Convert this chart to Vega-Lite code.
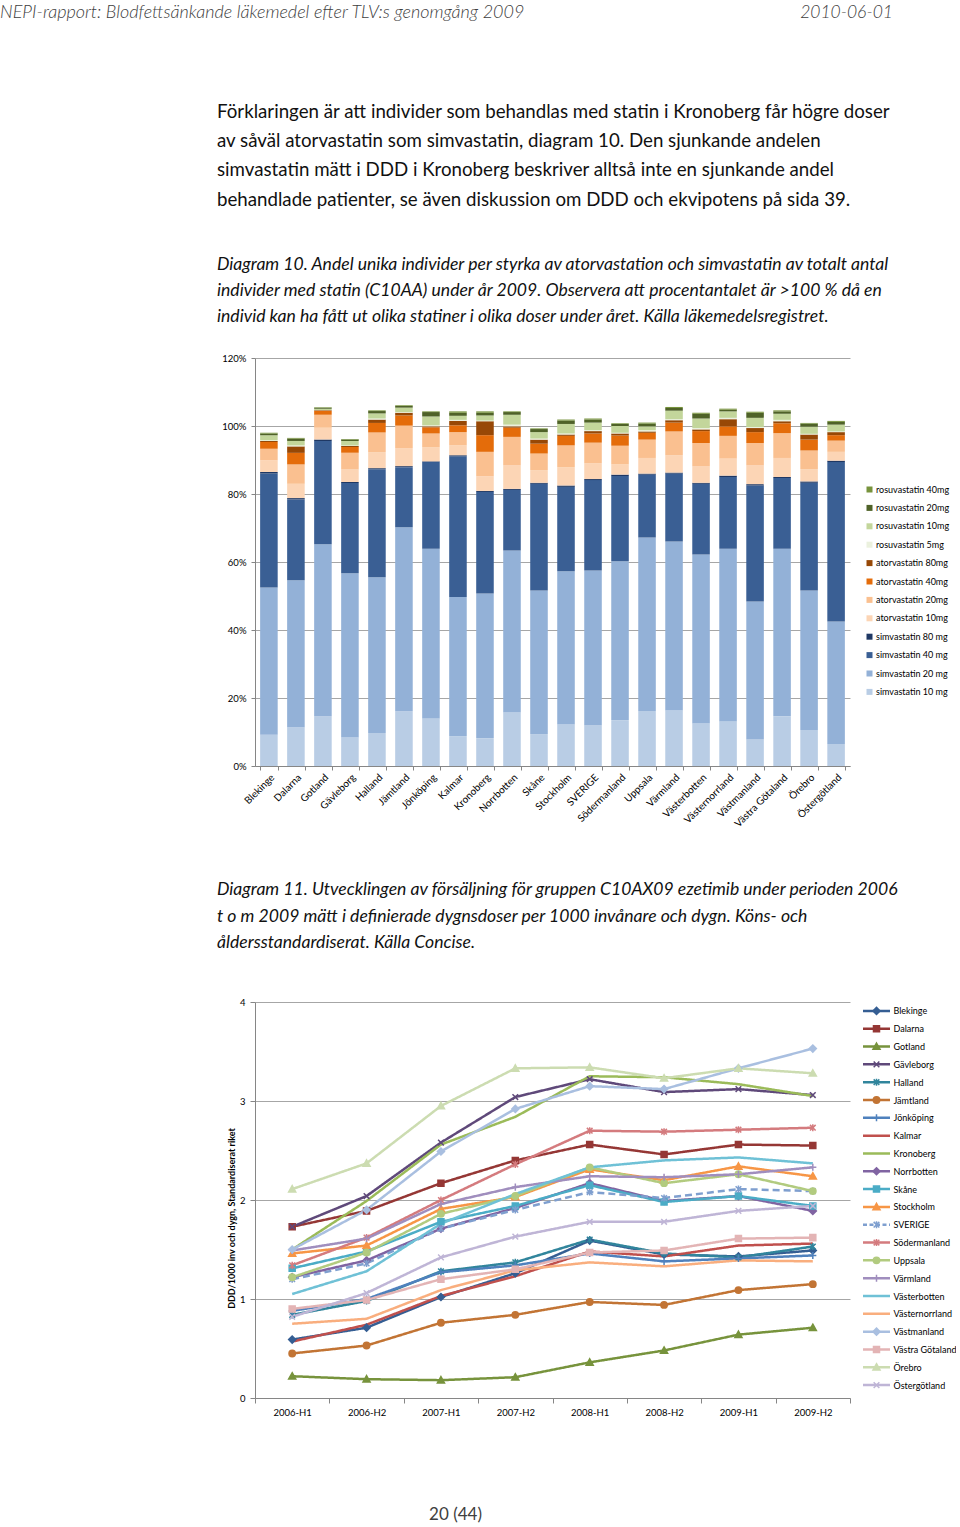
{
  "$schema": "https://vega.github.io/schema/vega-lite/v6.json",
  "background": "white",
  "padding": {"left": 0, "top": 3, "right": 0, "bottom": 0},
  "config": {
    "font": "Lato",
    "view": {"stroke": null},
    "axis": {"labelFont": "Lato", "labelColor": "#000000", "domainColor": "#868686", "tickColor": "#868686", "gridColor": "#a6a6a6"},
    "legend": {"labelFont": "Lato", "labelColor": "#000000"}
  },
  "datasets": {
    "series": [
      {"s": "simvastatin 10 mg", "atc": "C10AA01", "dose": 10},
      {"s": "simvastatin 20 mg", "atc": "C10AA01", "dose": 20},
      {"s": "simvastatin 40 mg", "atc": "C10AA01", "dose": 40},
      {"s": "simvastatin 80 mg", "atc": "C10AA01", "dose": 80},
      {"s": "atorvastatin 10mg", "atc": "C10AA05", "dose": 10},
      {"s": "atorvastatin 20mg", "atc": "C10AA05", "dose": 20},
      {"s": "atorvastatin 40mg", "atc": "C10AA05", "dose": 40},
      {"s": "atorvastatin 80mg", "atc": "C10AA05", "dose": 80},
      {"s": "rosuvastatin 5mg", "atc": "C10AA07", "dose": 5},
      {"s": "rosuvastatin 10mg", "atc": "C10AA07", "dose": 10},
      {"s": "rosuvastatin 20mg", "atc": "C10AA07", "dose": 20},
      {"s": "rosuvastatin 40mg", "atc": "C10AA07", "dose": 40}
    ],
    "lines": [
      {"region": "Blekinge", "2006-H1": 0.59, "2006-H2": 0.71, "2007-H1": 1.02, "2007-H2": 1.26, "2008-H1": 1.59, "2008-H2": 1.45, "2009-H1": 1.43, "2009-H2": 1.49},
      {"region": "Dalarna", "2006-H1": 1.73, "2006-H2": 1.89, "2007-H1": 2.17, "2007-H2": 2.40, "2008-H1": 2.56, "2008-H2": 2.46, "2009-H1": 2.56, "2009-H2": 2.55},
      {"region": "Gotland", "2006-H1": 0.22, "2006-H2": 0.19, "2007-H1": 0.18, "2007-H2": 0.21, "2008-H1": 0.36, "2008-H2": 0.48, "2009-H1": 0.64, "2009-H2": 0.71},
      {"region": "Gävleborg", "2006-H1": 1.73, "2006-H2": 2.04, "2007-H1": 2.58, "2007-H2": 3.04, "2008-H1": 3.22, "2008-H2": 3.09, "2009-H1": 3.12, "2009-H2": 3.06},
      {"region": "Halland", "2006-H1": 0.84, "2006-H2": 0.98, "2007-H1": 1.28, "2007-H2": 1.37, "2008-H1": 1.60, "2008-H2": 1.46, "2009-H1": 1.42, "2009-H2": 1.53},
      {"region": "Jämtland", "2006-H1": 0.45, "2006-H2": 0.53, "2007-H1": 0.76, "2007-H2": 0.84, "2008-H1": 0.97, "2008-H2": 0.94, "2009-H1": 1.09, "2009-H2": 1.15},
      {"region": "Jönköping", "2006-H1": 0.88, "2006-H2": 1.00, "2007-H1": 1.27, "2007-H2": 1.34, "2008-H1": 1.46, "2008-H2": 1.38, "2009-H1": 1.41, "2009-H2": 1.44},
      {"region": "Kalmar", "2006-H1": 0.57, "2006-H2": 0.74, "2007-H1": 1.03, "2007-H2": 1.23, "2008-H1": 1.48, "2008-H2": 1.43, "2009-H1": 1.54, "2009-H2": 1.56},
      {"region": "Kronoberg", "2006-H1": 1.50, "2006-H2": 1.99, "2007-H1": 2.56, "2007-H2": 2.84, "2008-H1": 3.25, "2008-H2": 3.24, "2009-H1": 3.17, "2009-H2": 3.05},
      {"region": "Norrbotten", "2006-H1": 1.22, "2006-H2": 1.39, "2007-H1": 1.71, "2007-H2": 1.92, "2008-H1": 2.17, "2008-H2": 1.99, "2009-H1": 2.04, "2009-H2": 1.89},
      {"region": "Skåne", "2006-H1": 1.31, "2006-H2": 1.48, "2007-H1": 1.78, "2007-H2": 1.94, "2008-H1": 2.15, "2008-H2": 1.98, "2009-H1": 2.04, "2009-H2": 1.94},
      {"region": "Stockholm", "2006-H1": 1.46, "2006-H2": 1.54, "2007-H1": 1.91, "2007-H2": 2.03, "2008-H1": 2.31, "2008-H2": 2.20, "2009-H1": 2.34, "2009-H2": 2.24},
      {"region": "SVERIGE", "2006-H1": 1.20, "2006-H2": 1.36, "2007-H1": 1.71, "2007-H2": 1.90, "2008-H1": 2.08, "2008-H2": 2.02, "2009-H1": 2.11, "2009-H2": 2.09},
      {"region": "Södermanland", "2006-H1": 1.34, "2006-H2": 1.62, "2007-H1": 2.00, "2007-H2": 2.36, "2008-H1": 2.70, "2008-H2": 2.69, "2009-H1": 2.71, "2009-H2": 2.73},
      {"region": "Uppsala", "2006-H1": 1.22, "2006-H2": 1.47, "2007-H1": 1.86, "2007-H2": 2.04, "2008-H1": 2.33, "2008-H2": 2.17, "2009-H1": 2.26, "2009-H2": 2.09},
      {"region": "Värmland", "2006-H1": 1.49, "2006-H2": 1.61, "2007-H1": 1.96, "2007-H2": 2.13, "2008-H1": 2.24, "2008-H2": 2.23, "2009-H1": 2.26, "2009-H2": 2.33},
      {"region": "Västerbotten", "2006-H1": 1.05, "2006-H2": 1.28, "2007-H1": 1.76, "2007-H2": 2.06, "2008-H1": 2.33, "2008-H2": 2.40, "2009-H1": 2.43, "2009-H2": 2.37},
      {"region": "Västernorrland", "2006-H1": 0.75, "2006-H2": 0.80, "2007-H1": 1.09, "2007-H2": 1.29, "2008-H1": 1.37, "2008-H2": 1.33, "2009-H1": 1.39, "2009-H2": 1.38},
      {"region": "Västmanland", "2006-H1": 1.50, "2006-H2": 1.90, "2007-H1": 2.49, "2007-H2": 2.92, "2008-H1": 3.15, "2008-H2": 3.12, "2009-H1": 3.33, "2009-H2": 3.53},
      {"region": "Västra Götaland", "2006-H1": 0.90, "2006-H2": 0.99, "2007-H1": 1.20, "2007-H2": 1.30, "2008-H1": 1.47, "2008-H2": 1.49, "2009-H1": 1.61, "2009-H2": 1.62},
      {"region": "Örebro", "2006-H1": 2.11, "2006-H2": 2.37, "2007-H1": 2.95, "2007-H2": 3.33, "2008-H1": 3.34, "2008-H2": 3.23, "2009-H1": 3.33, "2009-H2": 3.28},
      {"region": "Östergötland", "2006-H1": 0.82, "2006-H2": 1.06, "2007-H1": 1.42, "2007-H2": 1.63, "2008-H1": 1.78, "2008-H2": 1.78, "2009-H1": 1.89, "2009-H2": 1.94}
    ]
  },
  "resolve": {"scale": {"color": "independent", "shape": "independent", "stroke": "independent", "fill": "independent"}, "legend": {"color": "independent"}},
  "title": {
    "text": "NEPI-rapport: Blodfettsänkande läkemedel efter TLV:s genomgång 2009",
    "anchor": "start", "frame": "bounds", "dx": -217, "dy": 22,
    "font": "Lato", "fontSize": 18, "fontStyle": "italic", "fontWeight": 300, "color": "#404040"
  },
  "spacing": 52,
  "vconcat": [
    {
      "width": 638, "height": 0,
      "data": {"values": []},
      "mark": "point",
      "title": {"text": "2010-06-01", "anchor": "end", "frame": "group", "offset": 9,
        "font": "Lato", "fontSize": 17.5, "fontStyle": "italic", "fontWeight": 300, "color": "#404040"}
    },
    {
      "width": 595, "height": 408,
      "title": {
        "text": [
          "Förklaringen är att individer som behandlas med statin i Kronoberg får högre doser",
          "av såväl atorvastatin som simvastatin, diagram 10. Den sjunkande andelen",
          "simvastatin mätt i DDD i Kronoberg beskriver alltså inte en sjunkande andel",
          "behandlade patienter, se även diskussion om DDD och ekvipotens på sida 39."
        ],
        "anchor": "start", "frame": "group", "dx": -38, "offset": 27,
        "font": "Lato", "fontSize": 18.7, "fontWeight": "normal", "color": "#111111", "lineHeight": 29.3,
        "subtitle": [
          "Diagram 10. Andel unika individer per styrka av atorvastation och simvastatin av totalt antal",
          "individer med statin (C10AA) under år 2009. Observera att procentantalet är >100 % då en",
          "individ kan ha fått ut olika statiner i olika doser under året. Källa läkemedelsregistret."
        ],
        "subtitleFont": "Lato", "subtitleFontSize": 17.6, "subtitleFontStyle": "italic", "subtitleColor": "#111111",
        "subtitleLineHeight": 26, "subtitlePadding": 47
      },
      "data": {"values": [
        {"r": "Blekinge", "simvastatin 10 mg": 9.2, "simvastatin 20 mg": 43.3, "simvastatin 40 mg": 33.5, "simvastatin 80 mg": 0.5, "atorvastatin 10mg": 3.4, "atorvastatin 20mg": 3.4, "atorvastatin 40mg": 2.0, "atorvastatin 80mg": 0.3, "rosuvastatin 5mg": 0.2, "rosuvastatin 10mg": 1.5, "rosuvastatin 20mg": 0.5, "rosuvastatin 40mg": 0.2},
        {"r": "Dalarna", "simvastatin 10 mg": 11.3, "simvastatin 20 mg": 43.3, "simvastatin 40 mg": 23.8, "simvastatin 80 mg": 0.4, "atorvastatin 10mg": 4.2, "atorvastatin 20mg": 5.7, "atorvastatin 40mg": 3.4, "atorvastatin 80mg": 1.9, "rosuvastatin 5mg": 0.3, "rosuvastatin 10mg": 1.3, "rosuvastatin 20mg": 0.7, "rosuvastatin 40mg": 0.2},
        {"r": "Gotland", "simvastatin 10 mg": 14.6, "simvastatin 20 mg": 50.6, "simvastatin 40 mg": 30.4, "simvastatin 80 mg": 0.4, "atorvastatin 10mg": 3.5, "atorvastatin 20mg": 3.8, "atorvastatin 40mg": 1.1, "atorvastatin 80mg": 0.2, "rosuvastatin 5mg": 0.1, "rosuvastatin 10mg": 0.4, "rosuvastatin 20mg": 0.3, "rosuvastatin 40mg": 0.1},
        {"r": "Gävleborg", "simvastatin 10 mg": 8.4, "simvastatin 20 mg": 48.3, "simvastatin 40 mg": 26.5, "simvastatin 80 mg": 0.3, "atorvastatin 10mg": 3.7, "atorvastatin 20mg": 4.9, "atorvastatin 40mg": 1.7, "atorvastatin 80mg": 0.3, "rosuvastatin 5mg": 0.2, "rosuvastatin 10mg": 1.3, "rosuvastatin 20mg": 0.4, "rosuvastatin 40mg": 0.2},
        {"r": "Halland", "simvastatin 10 mg": 9.7, "simvastatin 20 mg": 45.8, "simvastatin 40 mg": 31.8, "simvastatin 80 mg": 0.3, "atorvastatin 10mg": 4.7, "atorvastatin 20mg": 5.8, "atorvastatin 40mg": 2.8, "atorvastatin 80mg": 1.0, "rosuvastatin 5mg": 0.3, "rosuvastatin 10mg": 1.5, "rosuvastatin 20mg": 0.7, "rosuvastatin 40mg": 0.2},
        {"r": "Jämtland", "simvastatin 10 mg": 16.1, "simvastatin 20 mg": 54.1, "simvastatin 40 mg": 17.7, "simvastatin 80 mg": 0.3, "atorvastatin 10mg": 5.3, "atorvastatin 20mg": 6.6, "atorvastatin 40mg": 3.0, "atorvastatin 80mg": 0.8, "rosuvastatin 5mg": 0.2, "rosuvastatin 10mg": 1.3, "rosuvastatin 20mg": 0.5, "rosuvastatin 40mg": 0.2},
        {"r": "Jönköping", "simvastatin 10 mg": 14.0, "simvastatin 20 mg": 49.9, "simvastatin 40 mg": 25.5, "simvastatin 80 mg": 0.2, "atorvastatin 10mg": 4.1, "atorvastatin 20mg": 4.1, "atorvastatin 40mg": 1.8, "atorvastatin 80mg": 0.3, "rosuvastatin 5mg": 0.3, "rosuvastatin 10mg": 2.6, "rosuvastatin 20mg": 1.3, "rosuvastatin 40mg": 0.2},
        {"r": "Kalmar", "simvastatin 10 mg": 8.8, "simvastatin 20 mg": 40.9, "simvastatin 40 mg": 41.4, "simvastatin 80 mg": 0.3, "atorvastatin 10mg": 2.9, "atorvastatin 20mg": 3.9, "atorvastatin 40mg": 2.0, "atorvastatin 80mg": 1.3, "rosuvastatin 5mg": 0.3, "rosuvastatin 10mg": 1.2, "rosuvastatin 20mg": 0.9, "rosuvastatin 40mg": 0.4},
        {"r": "Kronoberg", "simvastatin 10 mg": 8.2, "simvastatin 20 mg": 42.5, "simvastatin 40 mg": 29.9, "simvastatin 80 mg": 0.3, "atorvastatin 10mg": 4.3, "atorvastatin 20mg": 7.2, "atorvastatin 40mg": 4.9, "atorvastatin 80mg": 4.1, "rosuvastatin 5mg": 0.2, "rosuvastatin 10mg": 1.5, "rosuvastatin 20mg": 0.8, "rosuvastatin 40mg": 0.4},
        {"r": "Norrbotten", "simvastatin 10 mg": 15.7, "simvastatin 20 mg": 47.7, "simvastatin 40 mg": 17.8, "simvastatin 80 mg": 0.3, "atorvastatin 10mg": 6.9, "atorvastatin 20mg": 8.4, "atorvastatin 40mg": 2.7, "atorvastatin 80mg": 0.4, "rosuvastatin 5mg": 0.5, "rosuvastatin 10mg": 2.9, "rosuvastatin 20mg": 0.8, "rosuvastatin 40mg": 0.2},
        {"r": "Skåne", "simvastatin 10 mg": 9.4, "simvastatin 20 mg": 42.2, "simvastatin 40 mg": 31.4, "simvastatin 80 mg": 0.3, "atorvastatin 10mg": 3.7, "atorvastatin 20mg": 4.9, "atorvastatin 40mg": 2.9, "atorvastatin 80mg": 1.2, "rosuvastatin 5mg": 0.3, "rosuvastatin 10mg": 1.9, "rosuvastatin 20mg": 0.9, "rosuvastatin 40mg": 0.2},
        {"r": "Stockholm", "simvastatin 10 mg": 12.2, "simvastatin 20 mg": 45.1, "simvastatin 40 mg": 24.8, "simvastatin 80 mg": 0.4, "atorvastatin 10mg": 5.4, "atorvastatin 20mg": 6.4, "atorvastatin 40mg": 2.8, "atorvastatin 80mg": 0.4, "rosuvastatin 5mg": 0.3, "rosuvastatin 10mg": 2.8, "rosuvastatin 20mg": 1.0, "rosuvastatin 40mg": 0.3},
        {"r": "SVERIGE", "simvastatin 10 mg": 12.0, "simvastatin 20 mg": 45.5, "simvastatin 40 mg": 26.6, "simvastatin 80 mg": 0.3, "atorvastatin 10mg": 4.6, "atorvastatin 20mg": 6.1, "atorvastatin 40mg": 2.7, "atorvastatin 80mg": 0.7, "rosuvastatin 5mg": 0.3, "rosuvastatin 10mg": 2.2, "rosuvastatin 20mg": 0.9, "rosuvastatin 40mg": 0.3},
        {"r": "Södermanland", "simvastatin 10 mg": 13.5, "simvastatin 20 mg": 46.7, "simvastatin 40 mg": 25.1, "simvastatin 80 mg": 0.4, "atorvastatin 10mg": 3.0, "atorvastatin 20mg": 5.5, "atorvastatin 40mg": 3.0, "atorvastatin 80mg": 0.6, "rosuvastatin 5mg": 0.2, "rosuvastatin 10mg": 2.0, "rosuvastatin 20mg": 0.6, "rosuvastatin 40mg": 0.2},
        {"r": "Uppsala", "simvastatin 10 mg": 16.2, "simvastatin 20 mg": 51.0, "simvastatin 40 mg": 18.5, "simvastatin 80 mg": 0.3, "atorvastatin 10mg": 4.6, "atorvastatin 20mg": 5.4, "atorvastatin 40mg": 2.0, "atorvastatin 80mg": 0.4, "rosuvastatin 5mg": 0.4, "rosuvastatin 10mg": 1.1, "rosuvastatin 20mg": 0.8, "rosuvastatin 40mg": 0.3},
        {"r": "Värmland", "simvastatin 10 mg": 16.3, "simvastatin 20 mg": 49.7, "simvastatin 40 mg": 20.0, "simvastatin 80 mg": 0.3, "atorvastatin 10mg": 5.1, "atorvastatin 20mg": 7.0, "atorvastatin 40mg": 2.6, "atorvastatin 80mg": 0.7, "rosuvastatin 5mg": 0.3, "rosuvastatin 10mg": 2.5, "rosuvastatin 20mg": 0.8, "rosuvastatin 40mg": 0.3},
        {"r": "Västerbotten", "simvastatin 10 mg": 12.5, "simvastatin 20 mg": 49.7, "simvastatin 40 mg": 20.8, "simvastatin 80 mg": 0.3, "atorvastatin 10mg": 4.8, "atorvastatin 20mg": 6.9, "atorvastatin 40mg": 3.5, "atorvastatin 80mg": 0.5, "rosuvastatin 5mg": 0.4, "rosuvastatin 10mg": 2.8, "rosuvastatin 20mg": 1.4, "rosuvastatin 40mg": 0.3},
        {"r": "Västernorrland", "simvastatin 10 mg": 13.1, "simvastatin 20 mg": 50.8, "simvastatin 40 mg": 21.1, "simvastatin 80 mg": 0.4, "atorvastatin 10mg": 5.0, "atorvastatin 20mg": 6.7, "atorvastatin 40mg": 2.8, "atorvastatin 80mg": 2.1, "rosuvastatin 5mg": 0.4, "rosuvastatin 10mg": 1.9, "rosuvastatin 20mg": 0.5, "rosuvastatin 40mg": 0.3},
        {"r": "Västmanland", "simvastatin 10 mg": 7.8, "simvastatin 20 mg": 40.6, "simvastatin 40 mg": 34.1, "simvastatin 80 mg": 0.4, "atorvastatin 10mg": 5.5, "atorvastatin 20mg": 6.6, "atorvastatin 40mg": 3.2, "atorvastatin 80mg": 1.2, "rosuvastatin 5mg": 0.3, "rosuvastatin 10mg": 2.7, "rosuvastatin 20mg": 1.5, "rosuvastatin 40mg": 0.3},
        {"r": "Västra Götaland", "simvastatin 10 mg": 14.6, "simvastatin 20 mg": 49.3, "simvastatin 40 mg": 20.8, "simvastatin 80 mg": 0.3, "atorvastatin 10mg": 5.6, "atorvastatin 20mg": 7.3, "atorvastatin 40mg": 2.9, "atorvastatin 80mg": 0.6, "rosuvastatin 5mg": 0.4, "rosuvastatin 10mg": 1.8, "rosuvastatin 20mg": 0.7, "rosuvastatin 40mg": 0.3},
        {"r": "Örebro", "simvastatin 10 mg": 10.6, "simvastatin 20 mg": 41.0, "simvastatin 40 mg": 31.7, "simvastatin 80 mg": 0.4, "atorvastatin 10mg": 3.6, "atorvastatin 20mg": 5.5, "atorvastatin 40mg": 3.2, "atorvastatin 80mg": 1.5, "rosuvastatin 5mg": 0.2, "rosuvastatin 10mg": 2.1, "rosuvastatin 20mg": 0.9, "rosuvastatin 40mg": 0.2},
        {"r": "Östergötland", "simvastatin 10 mg": 6.5, "simvastatin 20 mg": 36.0, "simvastatin 40 mg": 46.9, "simvastatin 80 mg": 0.4, "atorvastatin 10mg": 2.6, "atorvastatin 20mg": 3.3, "atorvastatin 40mg": 1.6, "atorvastatin 80mg": 0.9, "rosuvastatin 5mg": 0.2, "rosuvastatin 10mg": 2.0, "rosuvastatin 20mg": 0.8, "rosuvastatin 40mg": 0.3}
      ]},
      "transform": [
        {"fold": ["simvastatin 10 mg", "simvastatin 20 mg", "simvastatin 40 mg", "simvastatin 80 mg", "atorvastatin 10mg", "atorvastatin 20mg", "atorvastatin 40mg", "atorvastatin 80mg", "rosuvastatin 5mg", "rosuvastatin 10mg", "rosuvastatin 20mg", "rosuvastatin 40mg"], "as": ["s", "v"]},
        {"lookup": "s", "from": {"data": {"name": "series"}, "key": "s", "fields": ["atc", "dose"]}},
        {"stack": "v", "groupby": ["r"], "sort": [{"field": "atc", "order": "ascending"}, {"field": "dose", "order": "ascending"}], "as": ["v0", "v1"]}
      ],
      "mark": {"type": "bar"},
      "encoding": {
        "x": {"field": "r", "type": "nominal", "sort": null,
          "scale": {"paddingInner": 0.35, "paddingOuter": 0.19},
          "axis": {"title": null, "labelAngle": -45, "labelFontSize": 10, "tickBand": "extent", "tickSize": 4, "labelPadding": 2}},
        "y": {"field": "v1", "type": "quantitative",
          "scale": {"domain": [0, 120]},
          "axis": {"title": null, "values": [0, 20, 40, 60, 80, 100, 120], "labelExpr": "datum.value + '%'", "labelFontSize": 9.5, "grid": true, "tickSize": 4, "labelPadding": 5}},
        "y2": {"field": "v0"},
        "color": {"field": "s", "type": "nominal",
          "scale": {
            "domain": ["rosuvastatin 40mg", "rosuvastatin 20mg", "rosuvastatin 10mg", "rosuvastatin 5mg", "atorvastatin 80mg", "atorvastatin 40mg", "atorvastatin 20mg", "atorvastatin 10mg", "simvastatin 80 mg", "simvastatin 40 mg", "simvastatin 20 mg", "simvastatin 10 mg"],
            "range": ["#77933C", "#4F6228", "#C3D69B", "#EBF1DE", "#974806", "#E46C0A", "#FAC090", "#FCD5B5", "#1F3864", "#3A5F94", "#93B1D7", "#B9CDE5"]
          },
          "legend": {"title": null, "orient": "none", "legendX": 610, "legendY": 127, "symbolType": "square", "symbolSize": 36, "symbolStrokeWidth": 0, "labelFontSize": 9, "labelOffset": 2, "rowPadding": 8.4}}
      }
    },
    {
      "spacing": 13,
      "bounds": "flush",
      "resolve": {"scale": {"color": "shared", "fill": "shared", "stroke": "shared", "shape": "shared"}},
      "hconcat": [
        {
          "width": 595, "height": 396,
          "title": {
            "text": [
              "Diagram 11. Utvecklingen av försäljning för gruppen C10AX09 ezetimib under perioden 2006",
              "t o m 2009 mätt i definierade dygnsdoser per 1000 invånare och dygn. Köns- och",
              "åldersstandardiserat. Källa Concise."
            ],
            "anchor": "start", "frame": "group", "dx": -38, "offset": 45,
            "font": "Lato", "fontSize": 17.6, "fontStyle": "italic", "fontWeight": "normal", "color": "#111111", "lineHeight": 26.5
          },
          "data": {"name": "lines"},
          "transform": [
            {"fold": ["2006-H1", "2006-H2", "2007-H1", "2007-H2", "2008-H1", "2008-H2", "2009-H1", "2009-H2"], "as": ["p", "v"]}
          ],
          "encoding": {
            "x": {"field": "p", "type": "ordinal", "bandPosition": 0.5,
              "scale": {"type": "band", "paddingInner": 0, "paddingOuter": 0, "domain": ["2006-H1", "2006-H2", "2007-H1", "2007-H2", "2008-H1", "2008-H2", "2009-H1", "2009-H2"]},
              "axis": {"title": "20 (44)", "titleFont": "Lato", "titleFontSize": 17, "titleFontWeight": "normal", "titleColor": "#404040", "titlePadding": 90, "titleX": 200,
                "labelAngle": 0, "labelFontSize": 9.5, "tickBand": "extent", "tickSize": 5, "labelPadding": 4}},
            "y": {"field": "v", "type": "quantitative",
              "scale": {"domain": [0, 4]},
              "axis": {"values": [0, 1, 2, 3, 4], "title": "DDD/1000 inv och dygn, Standardiserat riket", "titleFont": "Lato", "titleFontSize": 9, "titleFontWeight": "bold", "titleColor": "#000000", "titlePadding": 3, "titleY": 216,
                "labelFontSize": 9.5, "grid": true, "tickSize": 5, "labelPadding": 5}}
          },
          "layer": [
            {
              "mark": {"type": "line", "strokeWidth": 2.5},
              "encoding": {
                "color": {"field": "region", "type": "nominal", "legend": null,
                  "scale": {
                    "domain": ["Blekinge", "Dalarna", "Gotland", "Gävleborg", "Halland", "Jämtland", "Jönköping", "Kalmar", "Kronoberg", "Norrbotten", "Skåne", "Stockholm", "SVERIGE", "Södermanland", "Uppsala", "Värmland", "Västerbotten", "Västernorrland", "Västmanland", "Västra Götaland", "Örebro", "Östergötland"],
                    "range": ["#355E93", "#953735", "#77933C", "#5F497A", "#31859C", "#C27434", "#4F81BD", "#C0504D", "#9BBB59", "#8064A2", "#4BACC6", "#F79646", "#7F9FCF", "#D47B7E", "#B2CB7F", "#A08EBE", "#6FC1D6", "#F9AE7E", "#A9BFE0", "#E3B4B5", "#CCDCB1", "#BFB5D6"]
                  }},
                "strokeDash": {"condition": {"test": "datum.region === 'SVERIGE'", "value": [7, 4]}, "value": [1, 0]},
                "strokeWidth": {"condition": {"test": "datum.region === 'SVERIGE'", "value": 3}, "value": 2.5}
              }
            },
            {
              "mark": {"type": "point", "filled": true, "size": 50, "strokeWidth": 1.5, "opacity": 1},
              "encoding": {
                "shape": {"field": "region", "type": "nominal", "legend": null,
                  "scale": {
                    "domain": ["Blekinge", "Dalarna", "Gotland", "Gävleborg", "Halland", "Jämtland", "Jönköping", "Kalmar", "Kronoberg", "Norrbotten", "Skåne", "Stockholm", "SVERIGE", "Södermanland", "Uppsala", "Värmland", "Västerbotten", "Västernorrland", "Västmanland", "Västra Götaland", "Örebro", "Östergötland"],
                    "range": ["M0,-1L1,0L0,1L-1,0Z", "M-0.85,-0.85H0.85V0.85H-0.85Z", "M0,-1L1,0.8H-1Z", "M-0.8,-0.8L0.8,0.8M-0.8,0.8L0.8,-0.8", "M-0.8,-0.8L0.8,0.8M-0.8,0.8L0.8,-0.8M0,-1V1", "M0.9,0A0.9,0.9,0,1,1,-0.9,0A0.9,0.9,0,1,1,0.9,0Z", "M0,-1V1M-1,0H1", "M0,0", "M0,0", "M0,-1L1,0L0,1L-1,0Z", "M-0.85,-0.85H0.85V0.85H-0.85Z", "M0,-1L1,0.8H-1Z", "M-0.8,-0.8L0.8,0.8M-0.8,0.8L0.8,-0.8M0,-1V1", "M-0.8,-0.8L0.8,0.8M-0.8,0.8L0.8,-0.8M0,-1V1", "M0.9,0A0.9,0.9,0,1,1,-0.9,0A0.9,0.9,0,1,1,0.9,0Z", "M0,-1V1M-1,0H1", "M0,0", "M0,0", "M0,-1L1,0L0,1L-1,0Z", "M-0.85,-0.85H0.85V0.85H-0.85Z", "M0,-1L1,0.8H-1Z", "M-0.8,-0.8L0.8,0.8M-0.8,0.8L0.8,-0.8"]
                  }},
                "fill": {"field": "region", "type": "nominal", "legend": null,
                  "scale": {
                    "domain": ["Blekinge", "Dalarna", "Gotland", "Gävleborg", "Halland", "Jämtland", "Jönköping", "Kalmar", "Kronoberg", "Norrbotten", "Skåne", "Stockholm", "SVERIGE", "Södermanland", "Uppsala", "Värmland", "Västerbotten", "Västernorrland", "Västmanland", "Västra Götaland", "Örebro", "Östergötland"],
                    "range": ["#355E93", "#953735", "#77933C", "#5F497A", "#31859C", "#C27434", "#4F81BD", "#C0504D", "#9BBB59", "#8064A2", "#4BACC6", "#F79646", "#7F9FCF", "#D47B7E", "#B2CB7F", "#A08EBE", "#6FC1D6", "#F9AE7E", "#A9BFE0", "#E3B4B5", "#CCDCB1", "#BFB5D6"]
                  }},
                "stroke": {"field": "region", "type": "nominal", "legend": null,
                  "scale": {
                    "domain": ["Blekinge", "Dalarna", "Gotland", "Gävleborg", "Halland", "Jämtland", "Jönköping", "Kalmar", "Kronoberg", "Norrbotten", "Skåne", "Stockholm", "SVERIGE", "Södermanland", "Uppsala", "Värmland", "Västerbotten", "Västernorrland", "Västmanland", "Västra Götaland", "Örebro", "Östergötland"],
                    "range": ["#355E93", "#953735", "#77933C", "#5F497A", "#31859C", "#C27434", "#4F81BD", "#C0504D", "#9BBB59", "#8064A2", "#4BACC6", "#F79646", "#7F9FCF", "#D47B7E", "#B2CB7F", "#A08EBE", "#6FC1D6", "#F9AE7E", "#A9BFE0", "#E3B4B5", "#CCDCB1", "#BFB5D6"]
                  }}
              }
            }
          ]
        },
        {
          "width": 27, "height": 392,
          "data": {"name": "lines"},
          "encoding": {
            "y": {"field": "region", "type": "nominal",
              "scale": {"type": "point", "padding": 0.5,
                "domain": ["Blekinge", "Dalarna", "Gotland", "Gävleborg", "Halland", "Jämtland", "Jönköping", "Kalmar", "Kronoberg", "Norrbotten", "Skåne", "Stockholm", "SVERIGE", "Södermanland", "Uppsala", "Värmland", "Västerbotten", "Västernorrland", "Västmanland", "Västra Götaland", "Örebro", "Östergötland"]},
              "axis": {"orient": "right", "title": null, "domain": false, "ticks": false, "grid": false, "labelPadding": 3, "labelFontSize": 9, "labelColor": "#000000"}}
          },
          "layer": [
            {
              "mark": {"type": "rule", "strokeWidth": 2.5},
              "encoding": {
                "x": {"datum": 0, "type": "quantitative", "scale": {"domain": [0, 1]}, "axis": null},
                "x2": {"datum": 1},
                "color": {"field": "region", "type": "nominal", "legend": null},
                "strokeDash": {"condition": {"test": "datum.region === 'SVERIGE'", "value": [4, 2.5]}, "value": [1, 0]},
                "strokeWidth": {"condition": {"test": "datum.region === 'SVERIGE'", "value": 3}, "value": 2.5}
              }
            },
            {
              "mark": {"type": "point", "filled": true, "size": 50, "strokeWidth": 1.5, "opacity": 1},
              "encoding": {
                "x": {"datum": 0.5, "type": "quantitative", "scale": {"domain": [0, 1]}, "axis": null},
                "shape": {"field": "region", "type": "nominal", "legend": null},
                "fill": {"field": "region", "type": "nominal", "legend": null},
                "stroke": {"field": "region", "type": "nominal", "legend": null}
              }
            }
          ]
        }
      ]
    }
  ]
}
